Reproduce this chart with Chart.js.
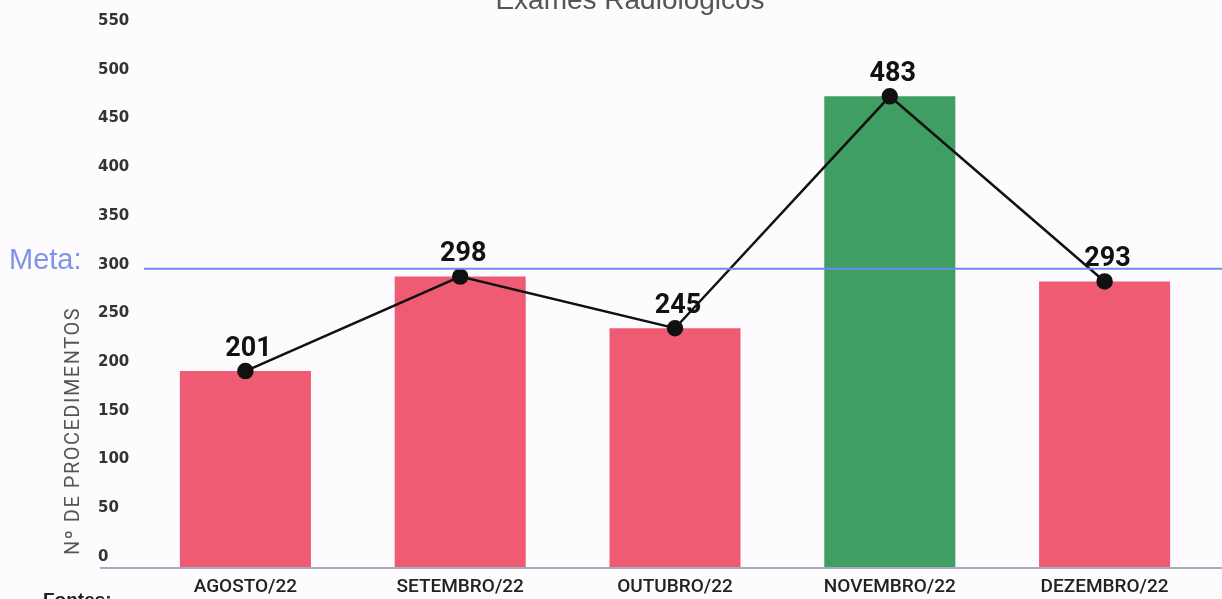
<!DOCTYPE html>
<html>
<head>
<meta charset="utf-8">
<script src="https://cdn.jsdelivr.net/npm/chart.js@4"></script>
<style>
  html, body { margin: 0; padding: 0; background: #fdfbfd; }
  #wrap { width: 1222px; height: 599px; position: relative; overflow: hidden; }
</style>
</head>
<body>
<div id="wrap"><canvas id="exames" width="1222" height="599"></canvas></div>
<script>
const meses = ['AGOSTO/22', 'SETEMBRO/22', 'OUTUBRO/22', 'NOVEMBRO/22', 'DEZEMBRO/22'];
const procedimentos = [201, 298, 245, 483, 293];
const meta = 300;
const yTicks = [0, 50, 100, 150, 200, 250, 300, 350, 400, 450, 500, 550];

const red = '#ef5b72';
const green = '#3f9e62';
const barColors = procedimentos.map(v => v >= meta ? green : red);

// extra drawing: title, meta line, labels, axis line, y title
const extras = {
  id: 'extras',
  afterDatasetsDraw(chart) {
    const ctx = chart.ctx;
    const y = chart.scales.y;
    const area = chart.chartArea;
    ctx.save();

    // meta line
    const ym = y.getPixelForValue(meta) - 6;
    ctx.strokeStyle = '#6d88ee';
    ctx.lineWidth = 2;
    ctx.beginPath();
    ctx.moveTo(144, ym);
    ctx.lineTo(1222, ym);
    ctx.stroke();

    ctx.fillStyle = '#7f93ea';
    ctx.font = '29px "Liberation Sans", Arial, sans-serif';
    ctx.textAlign = 'left';
    ctx.textBaseline = 'middle';
    ctx.fillText('Meta:', 9, ym - 8);

    // bottom axis line
    ctx.strokeStyle = '#8a93a0';
    ctx.lineWidth = 1.5;
    ctx.beginPath();
    ctx.moveTo(100, area.bottom + 1);
    ctx.lineTo(1222, area.bottom + 1);
    ctx.stroke();

    // value labels
    const meta1 = chart.getDatasetMeta(1);
    ctx.fillStyle = '#111';
    ctx.font = 'bold 27px Roboto, "Liberation Sans", sans-serif';
    ctx.textAlign = 'center';
    ctx.textBaseline = 'middle';
    meta1.data.forEach((pt, i) => {
      ctx.fillText(String(procedimentos[i]), pt.x + 3, pt.y - 22);
    });

    // title (cut at top)
    ctx.fillStyle = '#555';
    ctx.font = '28px "Liberation Sans", Arial, sans-serif';
    ctx.textBaseline = 'alphabetic';
    ctx.fillText('Exames Radiológicos', 630, 9);

    // y axis title
    ctx.save();
    ctx.translate(74, 431);
    ctx.rotate(-Math.PI / 2);
    ctx.fillStyle = '#555';
    ctx.font = '20px Roboto, "Liberation Sans", sans-serif';
    ctx.letterSpacing = '1.5px';
    ctx.textBaseline = 'middle';
    ctx.fillText('Nº DE PROCEDIMENTOS', 0, 0);
    ctx.restore();

    // source
    ctx.fillStyle = '#222';
    ctx.font = 'bold 19px "Liberation Sans", Arial, sans-serif';
    ctx.textAlign = 'left';
    ctx.textBaseline = 'alphabetic';
    ctx.fillText('Fontes:', 43, 606);

    ctx.restore();
  }
};

new Chart(document.getElementById('exames'), {
  data: {
    labels: meses,
    datasets: [
      {
        type: 'line',
        label: 'Linha',
        data: procedimentos,
        borderColor: '#111',
        backgroundColor: '#111',
        borderWidth: 2.5,
        pointRadius: 7,
        pointBackgroundColor: '#111',
        tension: 0,
        order: 0
      },
      {
        type: 'bar',
        label: 'Procedimentos',
        data: procedimentos,
        backgroundColor: barColors,
        barPercentage: 0.61,
        categoryPercentage: 1,
        order: 1
      }
    ]
  },
  options: {
    responsive: false,
    animation: false,
    layout: { padding: { left: 98, right: 10, top: 31, bottom: 0 } },
    plugins: {
      legend: { display: false },
      tooltip: { enabled: false }
    },
    scales: {
      x: {
        afterFit(axis) { axis.height = 32; },
        grid: { display: false },
        border: { display: false },
        ticks: {
          color: '#222',
          padding: 1,
          maxRotation: 0,
          font: { size: 19, weight: 500, family: 'Roboto, "Liberation Sans", sans-serif' }
        }
      },
      y: {
        min: 0,
        max: 550,
        afterBuildTicks(axis) {
          axis.ticks = yTicks.map(v => ({ value: v }));
        },
        afterFit(axis) { axis.width = 40; },
        grid: { display: false },
        border: { display: false },
        ticks: {
          color: '#333',
          crossAlign: 'far',
          labelOffset: -10,
          font: { size: 15, weight: 'bold', family: '"DejaVu Sans", sans-serif' }
        }
      }
    }
  },
  plugins: [extras]
});
</script>
</body>
</html>
